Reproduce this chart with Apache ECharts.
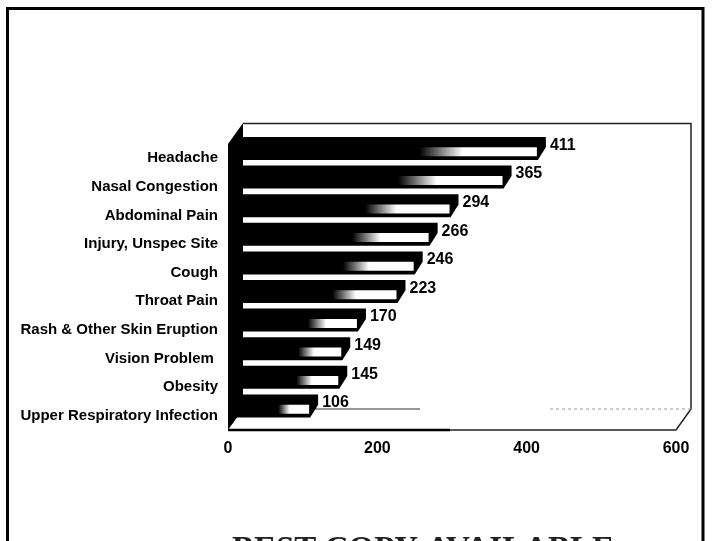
<!DOCTYPE html>
<html><head><meta charset="utf-8">
<style>html,body{margin:0;padding:0;background:#fff}#c{width:713px;height:541px}</style>
<script src="https://cdn.jsdelivr.net/npm/echarts@6/dist/echarts.min.js"></script>
</head><body><div id="c"></div>
<script>
var categories = ['Headache','Nasal Congestion','Abdominal Pain','Injury, Unspec Site','Cough','Throat Pain','Rash & Other Skin Eruption','Vision Problem ','Obesity','Upper Respiratory Infection'];
var values = [411,365,294,266,246,223,170,149,145,106];
var xTicks = [0,200,400,600];

var FONT = '"Liberation Sans", Arial, sans-serif';
var chart = echarts.init(document.getElementById('c'), null, {renderer:'canvas'});

function renderBar(params, api){
  var v = api.value(0), c = api.value(1);
  var end = api.coord([v,c]), base = api.coord([0,c]);
  var xv = end[0], yc = end[1], x0 = base[0];
  var top = yc - 21.3, mid = yc - 11, bot = yc + 1.7;
  return {type:'group', children:[
    {type:'polygon', shape:{points:[[x0,mid],[x0+12,top],[xv+11,top],[xv+11,mid],[xv+3,bot],[x0,bot]]},
     style:{fill:'#000'}},
    {type:'rect', shape:{x:x0,y:mid,width:xv+2-x0,height:9},
     style:{fill:new echarts.graphic.LinearGradient(0,0,1,0,[
       {offset:0,color:'#000'},{offset:0.62,color:'#000'},{offset:0.76,color:'#fff'},{offset:1,color:'#fff'}])}},
    {type:'text', style:{x:xv+15,y:yc-13,text:String(v),fill:'#000',
      font:'bold 16px '+FONT,align:'left',verticalAlign:'middle'}}
  ]};
}

chart.setOption({
  animation:false,
  backgroundColor:'#fff',
  title:{text:'BEST COPY AVAILABLE',left:232,top:534,padding:0,
    textStyle:{fontFamily:'"Liberation Serif", serif',fontWeight:'bold',fontSize:33,color:'#222'}},
  grid:{left:228,top:144,width:448,height:286,containLabel:false},
  xAxis:{type:'value',min:0,max:600,interval:200,
    axisLine:{show:false},axisTick:{show:false},splitLine:{show:false},
    axisLabel:{margin:11,color:'#000',fontFamily:FONT,fontWeight:'bold',fontSize:16,
      customValues:xTicks}},
  yAxis:{type:'category',inverse:true,data:categories,
    axisLine:{show:false},axisTick:{show:false},splitLine:{show:false},
    axisLabel:{margin:10,color:'#000',fontFamily:FONT,fontWeight:'bold',fontSize:15,interval:0}},
  graphic:[
    {type:'polyline',z:1,shape:{points:[[7.5,541],[7.5,8.5],[703,8.5],[703,541]]},style:{stroke:'#000',lineWidth:3,fill:null}},
    {type:'polygon',z:1,shape:{points:[[228,144],[243,123],[243,409],[228,430]]},style:{fill:'#000'}},
    {type:'polyline',z:1,shape:{points:[[243,123.5],[691,123.5],[691,409],[676,430],[228,430]]},style:{stroke:'#222',lineWidth:1.5,fill:null}},
    {type:'line',z:1,shape:{x1:228,y1:430,x2:450,y2:430},style:{stroke:'#000',lineWidth:2.5}},
    {type:'line',z:1,shape:{x1:243,y1:409,x2:420,y2:409},style:{stroke:'#333',lineWidth:1}},
    {type:'line',z:1,shape:{x1:550,y1:409,x2:691,y2:409},style:{stroke:'#999',lineWidth:1,lineDash:[3,3]}}
  ],
  series:[{type:'custom',renderItem:renderBar,z:5,
    encode:{x:0,y:1},
    data:values.map(function(v,i){return [v,i];})}]
});
</script></body></html>
